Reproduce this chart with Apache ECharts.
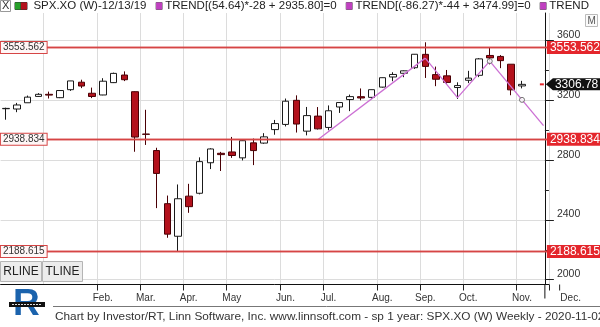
<!DOCTYPE html>
<html><head><meta charset="utf-8">
<script src="https://cdn.jsdelivr.net/npm/echarts@6/dist/echarts.min.js"></script>
<style>html,body{margin:0;padding:0;background:#fff;overflow:hidden}#c{width:600px;height:327px}</style>
</head><body><div id="c"></div>
<script>
// ---- data ----
const weeks = ['2019-12-06','2019-12-13','2019-12-20','2019-12-27','2020-01-03','2020-01-10','2020-01-17','2020-01-24','2020-01-31','2020-02-07','2020-02-14','2020-02-21','2020-02-28','2020-03-06','2020-03-13','2020-03-20','2020-03-27','2020-04-03','2020-04-09','2020-04-17','2020-04-24','2020-05-01','2020-05-08','2020-05-15','2020-05-22','2020-05-29','2020-06-05','2020-06-12','2020-06-19','2020-06-26','2020-07-02','2020-07-10','2020-07-17','2020-07-24','2020-07-31','2020-08-07','2020-08-14','2020-08-21','2020-08-28','2020-09-04','2020-09-11','2020-09-18','2020-09-25','2020-10-02','2020-10-09','2020-10-16','2020-10-23','2020-10-30','2020-11-06'];
const futureWeeks = ['2020-11-13','2020-11-20'];
const opens = [3143.85,3141.86,3183.63,3226.05,3240.09,3217.55,3271.13,3321.03,3247.16,3235.66,3318.28,3369.04,3257.61,2974.28,2863.89,2508.59,2290.71,2558.98,2578.28,2782.46,2845.62,2854.65,2815.01,2915.46,2913.86,3004.08,3038.78,3199.92,2993.76,3094.42,3018.59,3155.29,3205.08,3224.29,3219.84,3288.26,3356.04,3380.86,3418.09,3507.44,3371.88,3363.56,3285.57,3333.90,3367.27,3500.02,3493.50,3441.42,3296.20];
const closes = [3145.91,3168.80,3221.22,3240.02,3234.85,3265.35,3329.62,3295.47,3225.52,3327.71,3380.16,3337.75,2954.22,2972.37,2711.02,2304.92,2541.47,2488.65,2789.82,2874.56,2836.74,2830.71,2929.80,2863.70,2955.45,3044.31,3193.93,3041.31,3097.74,3009.05,3130.01,3185.04,3224.73,3215.63,3271.12,3351.28,3372.85,3397.16,3508.01,3426.96,3340.97,3319.47,3298.46,3348.44,3477.13,3483.81,3465.39,3269.96,3306.78];
const highs = [3150.60,3182.68,3231.72,3247.93,3258.14,3267.07,3329.88,3337.77,3285.00,3347.96,3385.09,3393.52,3259.81,3136.72,2882.59,2562.98,2637.01,2641.39,2818.57,2879.22,2855.00,2955.00,2932.16,2944.25,2980.29,3068.67,3211.72,3233.13,3155.53,3154.90,3165.81,3186.82,3238.28,3279.32,3272.17,3352.54,3387.89,3399.54,3509.23,3588.11,3425.55,3402.93,3320.31,3397.18,3482.34,3549.85,3502.42,3441.42,3330.14];
const lows = [3070.33,3120.57,3183.63,3223.00,3212.03,3214.64,3263.00,3281.53,3214.64,3234.00,3315.52,3328.45,2855.84,2901.54,2478.86,2280.52,2191.86,2447.49,2571.00,2740.00,2727.10,2815.00,2797.85,2766.64,2909.00,2969.75,3025.17,2984.47,2965.66,3004.63,2999.74,3115.70,3127.66,3200.05,3209.45,3284.53,3327.57,3354.69,3410.00,3349.63,3294.57,3310.00,3209.45,3315.00,3355.00,3440.45,3415.00,3233.94,3279.74];

const monthIdx = [4,9,13,17,21,26,30,35,39,43,48];
const monthLabels = ['','Feb.','Mar.','Apr.','May','Jun.','Jul.','Aug.','Sep.','Oct.','Nov.'];
const nextMonthLabel = 'Dec.';
const yTicks = [2000,2400,2800,3200,3600];
const yMinorTicks = [2200,2600,3000,3400];
const levels = [3553.562, 2938.834, 2188.615];

const trend1Idx = [29,39], trend1Val = [2935.80,3482.20];
const trend2Idx = [45,50], trend2Val = [3462.00,3031.00];
const trend3Idx = [39,42,45], trend3Val = [3482.20,3218.00,3462.00];
const markerIdx = [45,48], markerVal = [3462.00,3203.00];
const lastPrice = 3306.78;

const seriesName = 'SPX.XO (W)-12/13/19';
const trendNames = ['TREND[(54.64)*-28 + 2935.80]=0','TREND[(-86.27)*-44 + 3474.99]=0','TREND'];
const buttons = ['RLINE','TLINE'];
const footerText = 'Chart by Investor/RT, Linn Software, Inc. www.linnsoft.com - sp 1 year: SPX.XO (W) Weekly - 2020-11-02';

// ---- build ----
const cats = weeks.concat(futureWeeks);
const candles = weeks.map((w,i)=>[opens[i],closes[i],lows[i],highs[i]]);
function lineData(idx, val){
  const a = cats.map(()=>null);
  idx.forEach((k,j)=>{a[k]=val[j];});
  return a;
}
const monthSet = new Set(monthIdx);
const labelMap = {}; monthIdx.forEach((k,j)=>{labelMap[k]=monthLabels[j];});
const tickSet = new Set(monthIdx.filter((k,j)=>monthLabels[j]!==''));
const FONT = 'Liberation Sans';
const RED = '#d64545';
const TREND_C = '#cc70d4';
const GRID_C = '#dcdcdc';

const chart = echarts.init(document.getElementById('c'), null, {renderer:'canvas'});
const gridLeft = 0.625, gridW = 10.75*cats.length, gridTop = 13, gridH = 271.5;
const yOff = -4;

const option = {
  animation:false,
  backgroundColor:'#fff',
  grid:{left:gridLeft, top:gridTop, width:gridW, height:gridH},
  xAxis:{
    type:'category', data:cats, boundaryGap:true,
    axisLine:{show:true, lineStyle:{color:'#111', width:1}},
    axisTick:{show:true, interval:(i)=>tickSet.has(i), length:6, lineStyle:{color:'#222'}},
    axisLabel:{interval:(i)=>tickSet.has(i), formatter:(v,i)=>labelMap[i]||'', fontFamily:FONT, fontSize:10, color:'#333', margin:9},
    splitLine:{show:true, interval:(i)=>monthSet.has(i), lineStyle:{color:GRID_C, width:1}}
  },
  yAxis:[{
    type:'value', position:'right', offset:yOff, min:1968, max:3784,
    axisLine:{show:true, lineStyle:{color:'#111', width:1}},
    axisTick:{show:true, customValues:yTicks, length:9, lineStyle:{color:'#222'}},
    axisLabel:{show:true, customValues:yTicks, formatter:(v)=>String(Math.round(v)), fontFamily:FONT, fontSize:10.5, color:'#333', margin:12, verticalAlign:'bottom', align:'left'},
    splitLine:{show:false}
  },{
    type:'value', position:'right', offset:yOff, min:1968, max:3784,
    axisLine:{show:false},
    axisTick:{show:true, customValues:yMinorTicks, length:4, lineStyle:{color:'#222'}},
    axisLabel:{show:false}, splitLine:{show:false}
  }],
  series:[
    {type:'candlestick', name:seriesName, data:candles, barWidth:7, z:2,
     itemStyle:{color:'#ffffff', color0:'#b3111c', borderColor:'#1a1a1a', borderColor0:'#4a0005', borderWidth:1},
     markLine:{symbol:'none', silent:true, animation:false,
       lineStyle:{color:RED, width:1.3, type:'solid'},
       emphasis:{disabled:true},
       data: levels.map(v=>({yAxis:v, label:{show:true, position:'start', distance:-46, formatter:v.toFixed(3),
                backgroundColor:'#fff6f6', borderColor:RED, borderWidth:1, color:'#333', fontFamily:FONT, fontSize:10, padding:[1,2,0,2]}}))
         .concat(levels.map(v=>({yAxis:v, label:{show:true, position:'end', distance:-2, formatter:v.toFixed(3),
                backgroundColor:'#e4262c', color:'#fff', fontFamily:FONT, fontSize:12, padding:[1,4,0,3]}})))
     }
    },
    {type:'line', name:trendNames[0], data:lineData(trend1Idx,trend1Val), connectNulls:true, showSymbol:false, lineStyle:{color:TREND_C, width:1.3}, z:3},
    {type:'line', name:trendNames[1], data:lineData(trend2Idx,trend2Val), connectNulls:true, showSymbol:false, lineStyle:{color:TREND_C, width:1.3}, z:3},
    {type:'line', name:trendNames[2], data:lineData(trend3Idx,trend3Val), connectNulls:true, showSymbol:false, lineStyle:{color:TREND_C, width:1.3}, z:3},
    {type:'scatter', data:markerIdx.map((k,j)=>[k,markerVal[j]]), symbol:'circle', symbolSize:5,
     itemStyle:{color:'#fff', borderColor:'#555', borderWidth:1}, z:4, silent:true,
     markLine:{symbol:'none', silent:true, animation:false, z:0,
       lineStyle:{color:GRID_C, width:1, type:'solid'}, label:{show:false}, emphasis:{disabled:true},
       data: yTicks.map(v=>({yAxis:v}))}
    }
  ]
};
chart.setOption(option);

// ---- overlays positioned through the chart's scales ----
const axX = gridLeft + gridW + yOff;
const yLast = chart.convertToPixel({yAxisIndex:0}, lastPrice);
const xLastBar = chart.convertToPixel({xAxisIndex:0}, weeks.length-1);
const bw = gridW / cats.length;
const decTickX = xLastBar - bw/2 + 4*bw;
const axisY = gridTop + gridH;

const header = '{g| }{r| }  ' + seriesName + '   {m| } ' + trendNames[0] + '   {m| } ' + trendNames[1] + '   {m| } ' + trendNames[2];
const graphics = [
  {type:'rect', shape:{x:0.5,y:0.5,width:10,height:11}, style:{fill:'#fff', stroke:'#999', lineWidth:1}, silent:true},
  {type:'text', x:2, y:0, style:{text:'X', fill:'#333', font:'11px '+FONT}, silent:true},
  {type:'text', x:15, y:0, style:{text:header, fill:'#222', font:'11.5px '+FONT,
     rich:{g:{backgroundColor:'#27a02a', width:6, height:7, borderColor:'#333', borderWidth:0.5},
           r:{backgroundColor:'#b3111c', width:6, height:7, borderColor:'#333', borderWidth:0.5},
           m:{backgroundColor:'#c040c0', width:6, height:7, borderColor:'#666', borderWidth:0.5}}}, silent:true},
  {type:'rect', shape:{x:585.5,y:14.5,width:12,height:12}, style:{fill:'#fafafa', stroke:'#bbb'}, silent:true},
  {type:'text', x:587.5, y:16, style:{text:'M', fill:'#555', font:'10px '+FONT}, silent:true},
  // last price tag
  {type:'line', shape:{x1:axX-5,y1:yLast,x2:axX-1,y2:yLast}, style:{stroke:'#e4262c', lineWidth:2}, silent:true},
  {type:'polygon', shape:{points:[[axX+1,yLast],[axX+8,yLast-6],[600,yLast-6],[600,yLast+6],[axX+8,yLast+6]]}, style:{fill:'#111'}, silent:true},
  {type:'text', x:axX+10, y:yLast, style:{text:lastPrice.toFixed(2), fill:'#fff', font:'12px '+FONT, verticalAlign:'middle'}, silent:true},
  // axis extension + Dec label
  {type:'line', shape:{x1:axX,y1:axisY,x2:axX,y2:axisY+14}, style:{stroke:'#111', lineWidth:1}, silent:true},
  {type:'line', shape:{x1:decTickX,y1:axisY,x2:decTickX,y2:axisY+6}, style:{stroke:'#222', lineWidth:1}, silent:true},
  {type:'text', x:decTickX+11, y:axisY+9, style:{text:nextMonthLabel, fill:'#333', font:'10px '+FONT, align:'center'}, silent:true},
  // buttons
  {type:'rect', shape:{x:0.5,y:261.5,width:41,height:20}, style:{fill:'#ececec', stroke:'#b5b5b5'}, silent:true},
  {type:'text', x:21, y:271.5, style:{text:buttons[0], fill:'#222', font:'12px '+FONT, align:'center', verticalAlign:'middle'}, silent:true},
  {type:'rect', shape:{x:42.5,y:261.5,width:40,height:20}, style:{fill:'#ececec', stroke:'#b5b5b5'}, silent:true},
  {type:'text', x:62.5, y:271.5, style:{text:buttons[1], fill:'#222', font:'12px '+FONT, align:'center', verticalAlign:'middle'}, silent:true},
  // logo
  {type:'text', x:13, y:286, style:{text:'R', fill:'#1b63ad', font:'bold 37px '+FONT}, silent:true},
  {type:'rect', shape:{x:9,y:302,width:36,height:5}, style:{fill:'#111'}, silent:true},
  {type:'line', shape:{x1:12,y1:304.5,x2:42,y2:304.5}, style:{stroke:'#ddd', lineWidth:1, lineDash:[2,1]}, silent:true},
  // footer
  {type:'line', shape:{x1:53,y1:306.5,x2:600,y2:306.5}, style:{stroke:'#777', lineWidth:1}, silent:true},
  {type:'text', x:55, y:317, style:{text:footerText, fill:'#333', font:'11.8px '+FONT, verticalAlign:'middle'}, silent:true}
];
chart.setOption({graphic:graphics});
</script></body></html>
